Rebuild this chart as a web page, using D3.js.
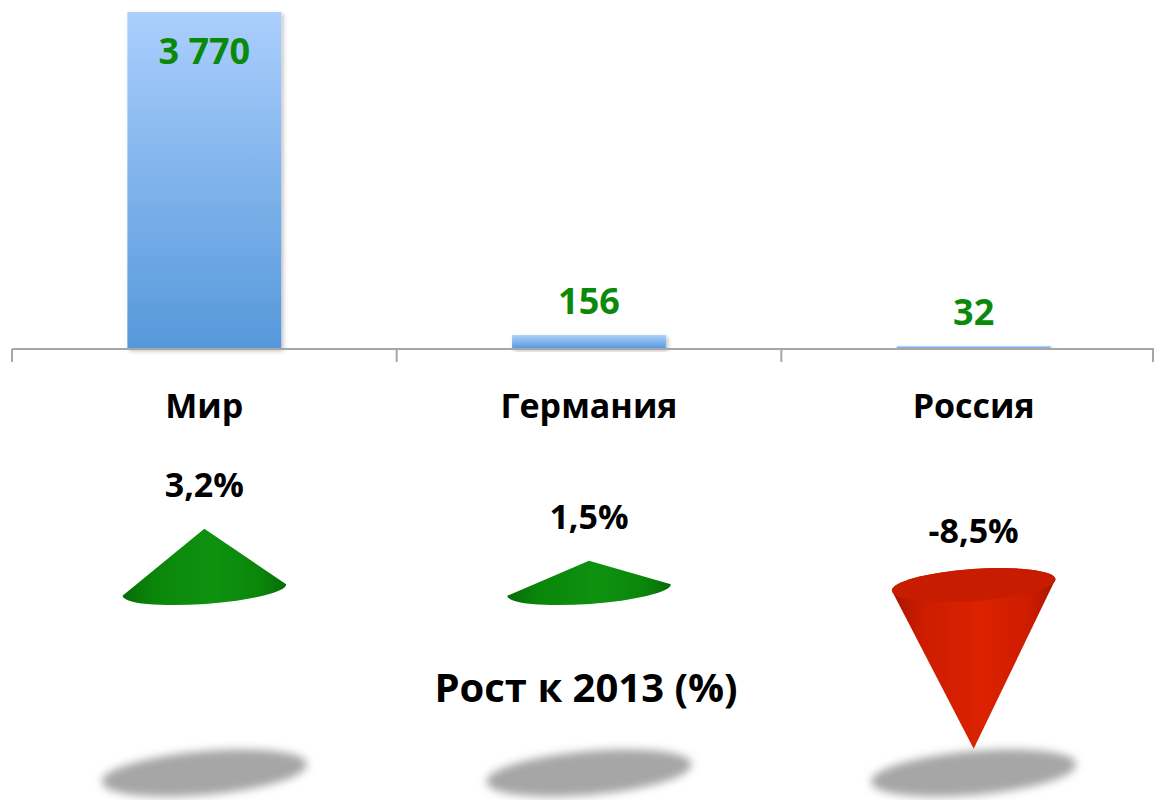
<!DOCTYPE html>
<html>
<head>
<meta charset="utf-8">
<script src="https://cdn.jsdelivr.net/npm/d3@7"></script>
<style>
  body { margin: 0; background: #fff; }
  svg { display: block; font-family: "Open Sans", "DejaVu Sans", sans-serif; }
</style>
</head>
<body>
<div id="chart"></div>
<script>
// data
const categories = ['Мир', 'Германия', 'Россия'];
const volumes = [3770, 156, 32];
const volumeLabels = ['3 770', '156', '32'];
const growth = [3.2, 1.5, -8.5];
const growthLabels = ['3,2%', '1,5%', '-8,5%'];
const growthTitle = 'Рост к 2013 (%)';

const width = 1154, height = 800;
const axisY = 349;

const svg = d3.select('#chart').append('svg')
    .attr('width', width)
    .attr('height', height);

const defs = svg.append('defs');

// bar gradient
const barGrad = defs.append('linearGradient')
    .attr('id', 'barGrad').attr('x1', 0).attr('y1', 0).attr('x2', 0).attr('y2', 1);
barGrad.append('stop').attr('offset', '0%').attr('stop-color', '#abcffd');
barGrad.append('stop').attr('offset', '100%').attr('stop-color', '#5598da');

const barShadow = defs.append('filter').attr('id', 'barShadow')
    .attr('x', '-10%').attr('y', '-10%').attr('width', '130%').attr('height', '130%');
barShadow.append('feDropShadow')
    .attr('dx', 2).attr('dy', 2).attr('stdDeviation', 2)
    .attr('flood-color', '#000').attr('flood-opacity', 0.25);

const blur = defs.append('filter').attr('id', 'blur')
    .attr('x', '-20%').attr('y', '-50%').attr('width', '140%').attr('height', '200%');
blur.append('feGaussianBlur').attr('stdDeviation', 4);

// cone shading gradients (horizontal)
function coneGrad(id, dark, mid, light) {
    const g = defs.append('linearGradient').attr('id', id)
        .attr('x1', 0).attr('y1', 0).attr('x2', 1).attr('y2', 0);
    g.append('stop').attr('offset', '0%').attr('stop-color', dark);
    g.append('stop').attr('offset', '18%').attr('stop-color', mid);
    g.append('stop').attr('offset', '55%').attr('stop-color', light);
    g.append('stop').attr('offset', '85%').attr('stop-color', mid);
    g.append('stop').attr('offset', '100%').attr('stop-color', dark);
}
coneGrad('greenCone', '#056c05', '#0a850a', '#0e920e');
coneGrad('redCone', '#a81400', '#cc1c00', '#dc2200');

// scales
const xScale = d3.scaleBand()
    .domain(categories)
    .range([12, 1166])
    .paddingInner(0.6)
    .paddingOuter(0.3);

const edgeScale = d3.scaleBand()
    .domain(categories)
    .range([12, 1166]);

const yScale = d3.scaleLinear()
    .domain([0, d3.max(volumes)])
    .range([axisY, 12]);

const coneScale = d3.scaleLinear()
    .domain([0, 1])
    .range([589, 570.2]);

// bars
svg.selectAll('rect.bar')
    .data(volumes)
    .enter()
    .append('rect')
    .attr('class', 'bar')
    .attr('x', (d, i) => xScale(categories[i]))
    .attr('y', d => yScale(d))
    .attr('width', xScale.bandwidth())
    .attr('height', d => axisY - yScale(d))
    .attr('fill', 'url(#barGrad)')
    .attr('filter', 'url(#barShadow)');

// axis line + ticks at band edges
svg.append('line')
    .attr('x1', 12).attr('x2', width)
    .attr('y1', axisY).attr('y2', axisY)
    .attr('stroke', '#a6a6a6').attr('stroke-width', 2);

const edges = categories.map(c => edgeScale(c)).concat([width - 1]);
svg.selectAll('line.tick')
    .data(edges)
    .enter()
    .append('line')
    .attr('class', 'tick')
    .attr('x1', d => d).attr('x2', d => d)
    .attr('y1', axisY).attr('y2', axisY + 13)
    .attr('stroke', '#a6a6a6').attr('stroke-width', 2);

// value labels
svg.selectAll('text.val')
    .data(volumes)
    .enter()
    .append('text')
    .attr('class', 'val')
    .attr('x', (d, i) => xScale(categories[i]) + xScale.bandwidth() / 2)
    .attr('y', d => yScale(d) - 21 < 40 ? yScale(d) + 52 : yScale(d) - 21)
    .attr('text-anchor', 'middle')
    .attr('font-size', 36)
    .attr('font-weight', 'bold')
    .attr('fill', '#0b890b')
    .text((d, i) => volumeLabels[i]);

// category labels
svg.selectAll('text.cat')
    .data(categories)
    .enter()
    .append('text')
    .attr('class', 'cat')
    .attr('x', d => xScale(d) + xScale.bandwidth() / 2)
    .attr('y', 418)
    .attr('text-anchor', 'middle')
    .attr('font-size', 34)
    .attr('font-weight', 'bold')
    .attr('fill', '#000')
    .text(d => d);

// shadows under cones
svg.selectAll('ellipse.shadow')
    .data(categories)
    .enter()
    .append('ellipse')
    .attr('class', 'shadow')
    .attr('cx', 0).attr('cy', 0)
    .attr('rx', 103).attr('ry', 22)
    .attr('transform', d => `translate(${xScale(d) + xScale.bandwidth() / 2},773) rotate(-5)`)
    .attr('fill', '#a6a6a6')
    .attr('filter', 'url(#blur)');

// cones
const rx = 82, rot = -4;
const rad = rot * Math.PI / 180;

growth.forEach((g, i) => {
    const cx = xScale(categories[i]) + xScale.bandwidth() / 2;
    const up = g >= 0;
    const cy = up ? coneScale(0) + 1 : coneScale(0) - 4;
    const ry = up ? 14 : 16;
    const tipY = coneScale(g);
    const lx = cx - rx * Math.cos(rad), ly = cy - rx * Math.sin(rad);
    const rxp = cx + rx * Math.cos(rad), ryp = cy + rx * Math.sin(rad);
    const fill = up ? 'url(#greenCone)' : 'url(#redCone)';

    // upright cone closes along the lower arc, inverted one along the upper arc
    const body = `M${lx},${ly} L${cx},${tipY} L${rxp},${ryp} A${rx},${ry} ${rot} 0 ${up ? 1 : 0} ${lx},${ly} Z`;
    svg.append('path')
        .attr('d', body)
        .attr('fill', fill);

    if (!up) {
        svg.append('ellipse')
            .attr('cx', 0).attr('cy', 0)
            .attr('rx', rx).attr('ry', ry)
            .attr('transform', `translate(${cx},${cy}) rotate(${rot})`)
            .attr('fill', '#c71c00');
    }

    const labelY = up ? tipY - 32 : cy - ry - 26;
    svg.append('text')
        .attr('x', cx)
        .attr('y', labelY)
        .attr('text-anchor', 'middle')
        .attr('font-size', 34)
        .attr('font-weight', 'bold')
        .attr('fill', '#000')
        .text(growthLabels[i]);
});

// title
svg.append('text')
    .attr('x', 586)
    .attr('y', 702)
    .attr('text-anchor', 'middle')
    .attr('font-size', 40)
    .attr('font-weight', 'bold')
    .attr('fill', '#000')
    .text(growthTitle);
</script>
</body>
</html>
